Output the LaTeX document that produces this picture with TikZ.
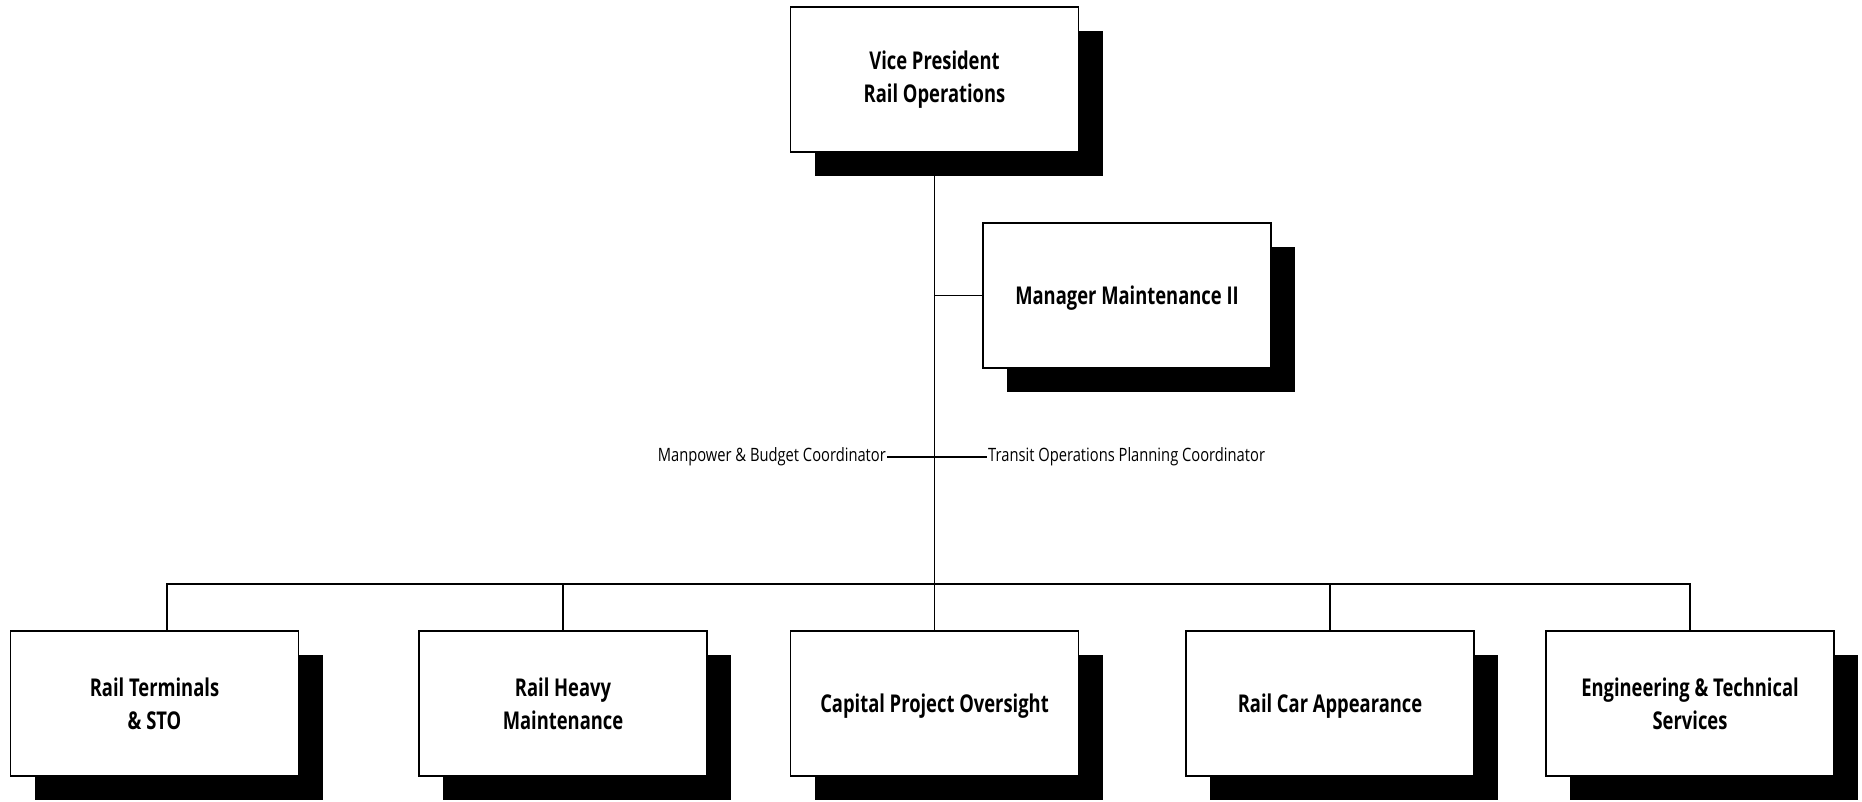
\documentclass[tikz,border=0pt]{standalone}
\usepackage{fontspec}
\setmainfont{Open Sans}[FakeStretch=0.8]
\newfontfamily\boxfont{Open Sans}[FakeStretch=0.75]
\usetikzlibrary{shadows}
\begin{document}
\begin{tikzpicture}[x=1pt,y=-1pt,
  unit/.style={draw=black, line width=1.8pt, fill=white,
    minimum width=288pt, minimum height=145pt, align=center,
    font=\boxfont\fontsize{24.5}{33}\selectfont\bfseries,
    drop shadow={shadow xshift=24pt, shadow yshift=-24pt, opacity=1, fill=black}},
  oneline/.style={text depth=0pt},
  role/.style={inner sep=1pt, font=\fontsize{18.4}{22}\selectfont},
  wire/.style={line width=1.9pt}]
\useasboundingbox (0,0) rectangle (1862,801);

% top of the chart
\node[unit] (vp) at (934.5,79.5) {Vice President\\Rail Operations};
\node[unit, oneline] (mgr) at (1127,295.5) {Manager Maintenance II};

% staff coordinators
\node[role, anchor=east] (mpb) at (887,457) {Manpower \& Budget Coordinator};
\node[role, anchor=west] (tpc) at (987,457) {Transit Operations Planning Coordinator};

% departments
\node[unit] (b1) at (154.5,703.5) {Rail Terminals\\\& STO};
\node[unit] (b2) at (563,703.5) {Rail Heavy\\Maintenance};
\node[unit, oneline] (b3) at (934.5,703.5) {Capital Project Oversight};
\node[unit, oneline] (b4) at (1330,703.5) {Rail Car Appearance};
\node[unit] (b5) at (1690,703.5) {Engineering \& Technical\\Services};

\coordinate (bus) at (934.5,584);

% connectors
\draw[wire] (vp.south) -- (b3.north);
\draw[wire] (mgr.west) -- (mgr.west -| vp.south);
\draw[wire] (mpb.east) -- (tpc.west);
\draw[wire] ([xshift=12.5pt]b1.north) |- (bus) -| (b5.north);
\draw[wire] (b2.north) -- (b2.north |- bus);
\draw[wire] (b4.north) -- (b4.north |- bus);
\end{tikzpicture}
\end{document}
